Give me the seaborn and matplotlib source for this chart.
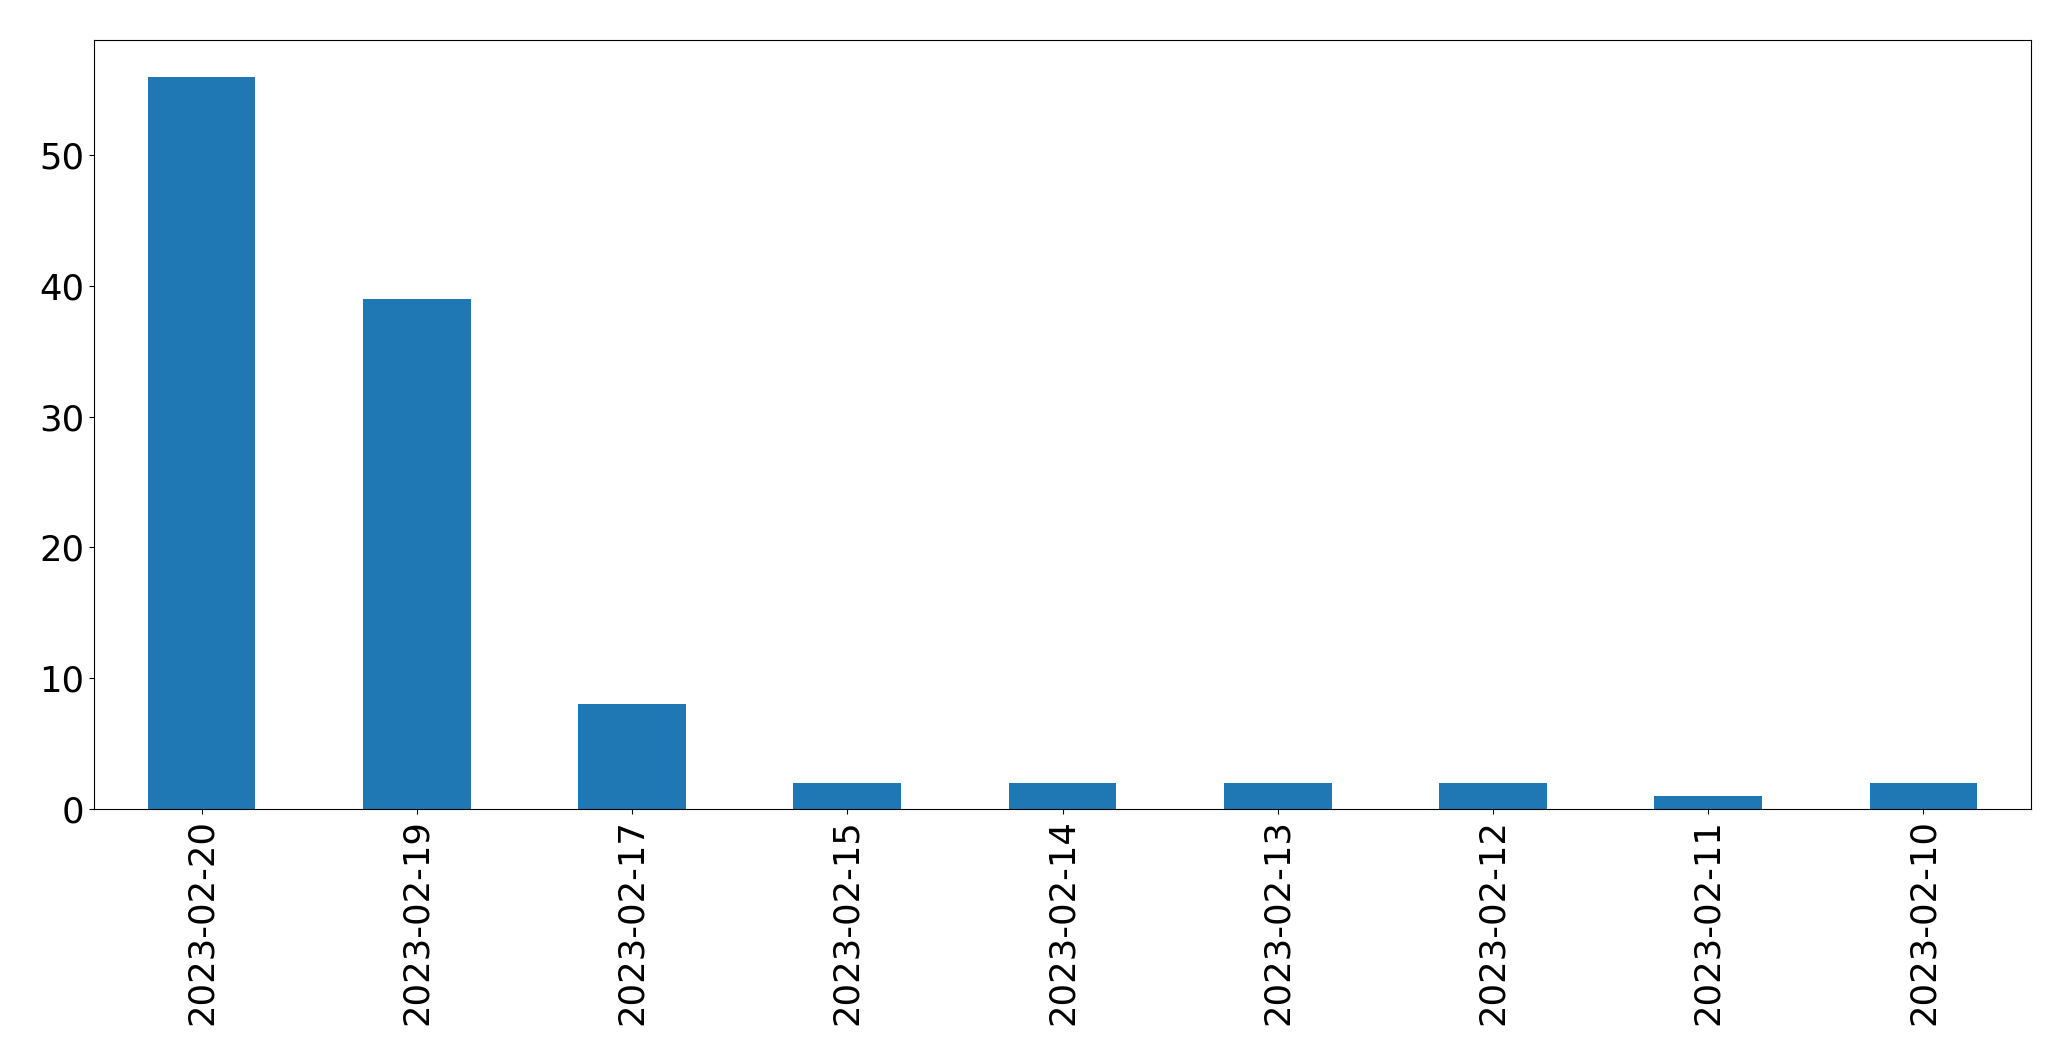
import pandas as pd
import matplotlib
matplotlib.use("Agg")
import matplotlib.pyplot as plt
import seaborn as sns

# Data
dates = ["2023-02-20", "2023-02-19", "2023-02-17", "2023-02-15", "2023-02-14",
         "2023-02-13", "2023-02-12", "2023-02-11", "2023-02-10"]
counts = [56, 39, 8, 2, 2, 2, 2, 1, 2]

df = pd.DataFrame({"date": dates, "count": counts})

plt.close("all")
plt.rcParams["font.family"] = ["DejaVu Sans"]

fig, ax = plt.subplots(figsize=(20.71, 10.61), dpi=100)
fig.subplots_adjust(left=0.0454, right=0.9807, top=0.9623, bottom=0.2375)

sns.barplot(data=df, x="date", y="count", order=dates, color="#1f77b4",
            saturation=1, width=0.5, ax=ax)

ax.set_xlim(-0.5, len(dates) - 0.5)
ax.set_ylim(0, max(counts) * 1.05)
ax.set_xlabel("")
ax.set_ylabel("")
ax.tick_params(axis="x", labelrotation=90, labelsize=25.5)
ax.tick_params(axis="y", labelsize=25.5)

fig.savefig("out.png", dpi=100)
